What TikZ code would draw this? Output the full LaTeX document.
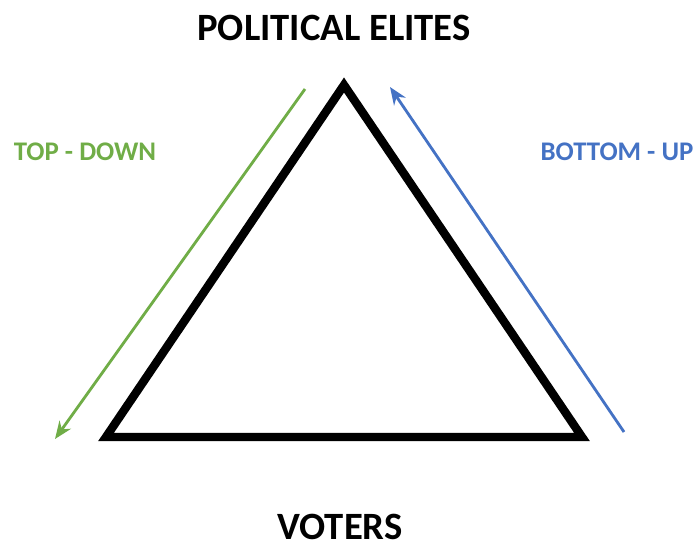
\documentclass[tikz,border=0pt]{standalone}
\usepackage{fontspec}
\setmainfont{Carlito}
\usetikzlibrary{arrows.meta}
\definecolor{topgreen}{HTML}{70AD47}
\definecolor{botblue}{HTML}{4472C4}
\tikzset{
	label/.style   = {font=\bfseries\fontsize{22}{26}\selectfont, inner sep=0pt},
	flow/.style    = {font=\bfseries\fontsize{15.3}{18}\selectfont, inner sep=0pt},
	corner/.style  = {coordinate}, % triangle corner
	flowline/.style = {line width=1.6pt, -{Stealth[length=10pt,width=8pt]}}
}

\begin{document}
\begin{tikzpicture}[x=0.02cm, y=-0.02cm]
	\useasboundingbox (0,0) rectangle (695,547);
	\draw
	node at (334,28) [label] (elites) {POLITICAL ELITES}
	node at (340,527) [label] (voters) {VOTERS}
	node at (85,152) [flow, text=topgreen] (topdown) {TOP - DOWN}
	node at (617,152) [flow, text=botblue] (bottomup) {BOTTOM - UP};
	
	\coordinate (apex) at (344,85);
	\coordinate (left) at (106,437);
	\coordinate (right) at (582,437);
	\draw[line width=4.8pt, line join=miter] (apex)--(right)--(left)--cycle;
	
	\coordinate (g1) at (305,89);
	\coordinate (g2) at (55,439);
	\coordinate (b1) at (624,432);
	\coordinate (b2) at (390,87);
	\draw[flowline, topgreen] (g1)--(g2);
	\draw[flowline, botblue] (b1)--(b2);
\end{tikzpicture}
\end{document}
